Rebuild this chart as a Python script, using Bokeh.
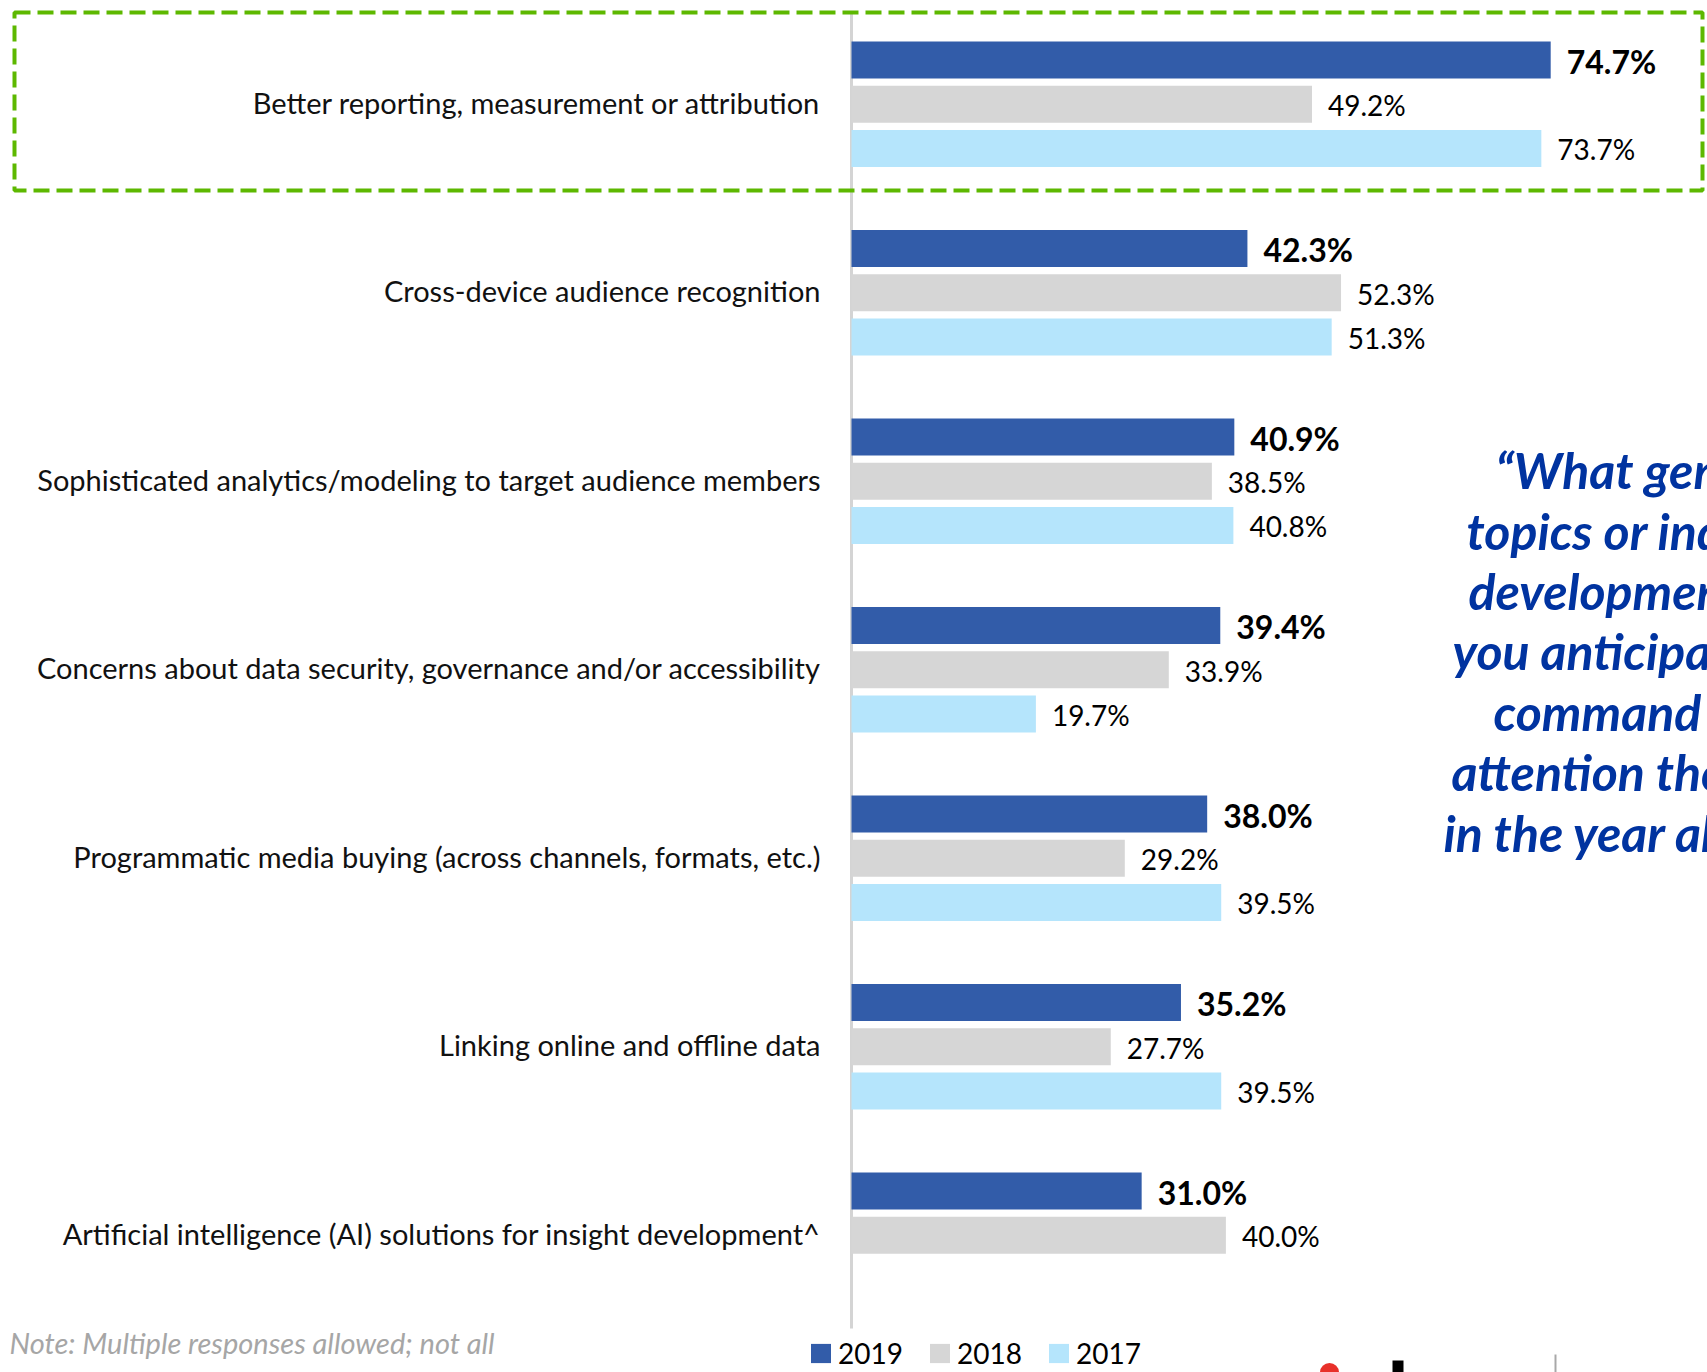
from bokeh.plotting import figure
from bokeh.models import (Range1d, Label, BoxAnnotation,
                          Legend, LegendItem, ColumnDataSource)
from bokeh.core.properties import value
from bokeh.embed import file_html
from bokeh.resources import INLINE

# ---------------- data ----------------
categories = [
    "Better reporting, measurement or attribution",
    "Cross-device audience recognition",
    "Sophisticated analytics/modeling to target audience members",
    "Concerns about data security, governance and/or accessibility",
    "Programmatic media buying (across channels, formats, etc.)",
    "Linking online and offline data",
    "Artificial intelligence (AI) solutions for insight development^",
]
years = ["2019", "2018", "2017"]
values_2019 = [74.7, 42.3, 40.9, 39.4, 38.0, 35.2, 31.0]
values_2018 = [49.2, 52.3, 38.5, 33.9, 29.2, 27.7, 40.0]
values_2017 = [73.7, 51.3, 40.8, 19.7, 39.5, 39.5, None]
colors = {"2019": "#325CA9", "2018": "#D6D6D6", "2017": "#B5E5FC"}

note_text = "Note: Multiple responses allowed; not all"
quote_lines = [
    "\u201cWhat general",
    "topics or industry",
    "developments do",
    "you anticipate will",
    "command your",
    "attention the most",
    "in the year ahead?\u201d",
]

# ---------------- layout constants (pixels) ----------------
W, H = 1707, 1372
FONT = "Lato"
px_per_pct = 9.36
axis_x = 851            # x of the 0 % line
slot = 44.2             # px between bars inside a group
group_pitch = 188.5     # px between groups
first_mid = 103.7       # y of the first group's middle bar

dy = slot / group_pitch            # offset between years, in group units
bar_h = 37 / group_pitch

# y in "group" units, group 0 on top
y_range = Range1d((H - first_mid) / group_pitch, (0 - first_mid) / group_pitch)
x_range = Range1d(-axis_x / px_per_pct, (W - axis_x) / px_per_pct)

p = figure(width=W, height=H, x_range=x_range, y_range=y_range,
           output_backend="svg", toolbar_location=None,
           x_axis_location=None, y_axis_location=None,
           min_border_left=0, min_border_right=0, min_border_top=0,
           min_border_bottom=0)
p.outline_line_color = None
p.xgrid.grid_line_color = None
p.ygrid.grid_line_color = None
p.background_fill_color = "white"
p.border_fill_color = "white"

# pixel-space helper ranges for decorations
p.extra_x_ranges = {"px": Range1d(0, W)}
p.extra_y_ranges = {"py": Range1d(H, 0)}

# dashed highlight box
p.add_layout(BoxAnnotation(left=14, right=1702, top=12, bottom=190,
                           x_range_name="px", y_range_name="py",
                           fill_color=None, fill_alpha=0,
                           line_color="#5DB800", line_alpha=1.0,
                           line_width=4, line_dash="16 7"))

# zero line
p.segment(x0=[0], x1=[0], y0=[13], y1=[1328], y_range_name="py",
          line_color="#D4D4D4", line_width=3)

series = {"2019": values_2019, "2018": values_2018, "2017": values_2017}
renderers = {}
for k, yr in enumerate(years):
    idx = [i for i, v in enumerate(series[yr]) if v is not None]
    vals = [series[yr][i] for i in idx]
    src = ColumnDataSource(dict(y=[i + (k - 1) * dy for i in idx], v=vals,
                                lab=[f"{v:.1f}%" for v in vals]))
    renderers[yr] = p.hbar(y="y", left=0, right="v", height=bar_h, source=src,
                           fill_color=colors[yr], line_color=None)
    p.text(x="v", y="y", text="lab", source=src, x_offset=16, y_offset=1,
           text_baseline="middle", text_align="left",
           text_font=value(FONT),
           text_font_style="bold" if yr == "2019" else "normal",
           text_font_size="32px" if yr == "2019" else "28px",
           text_color="#000000")

# category labels
csrc = ColumnDataSource(dict(x=[0] * len(categories),
                             y=list(range(len(categories))),
                             t=categories))
p.text(x="x", y="y", text="t", source=csrc, x_offset=-31, y_offset=-2,
       text_align="right", text_baseline="middle",
       text_font=value(FONT), text_font_size="29px", text_color="#111111")

# quote on the right
quote_x = [1495, 1466, 1468, 1452, 1493, 1451, 1443]
quote_base = [469, 530, 590, 650, 711, 771, 832]
for t, qx, qy in zip(quote_lines, quote_x, quote_base):
    p.add_layout(Label(x=qx, y=qy, x_range_name="px", y_range_name="py", text=t,
                       text_font=FONT, text_font_style="bold italic",
                       text_font_size="50px", text_color="#0033A0",
                       text_baseline="alphabetic", text_align="left"))

# note
p.add_layout(Label(x=9, y=1342, x_range_name="px", y_range_name="py", text=note_text,
                   text_font=FONT, text_font_style="italic", text_font_size="29px",
                   text_color="#A6A6A6", text_baseline="middle"))

# cut-off logo fragments at the bottom edge
p.circle(x=[1329], y=[1372], radius=9.5, x_range_name="px", y_range_name="py",
         fill_color="#E8302A", line_color=None)
p.quad(left=[1392], right=[1403], top=[1360], bottom=[1372],
       x_range_name="px", y_range_name="py", fill_color="#000000", line_color=None)
p.segment(x0=[1555], x1=[1555], y0=[1354], y1=[1372], x_range_name="px",
          y_range_name="py", line_color="#A8A8A8", line_width=2)

# legend
legend = Legend(items=[LegendItem(label=yr, renderers=[renderers[yr]]) for yr in years],
                orientation="horizontal", location=(808, 2),
                glyph_width=25, glyph_height=24, label_standoff=5, spacing=24,
                padding=0, margin=0, border_line_color=None,
                background_fill_alpha=0, label_text_font=FONT,
                label_text_font_size="28px", label_text_color="#000000")
p.add_layout(legend)

open("out.html", "w").write(file_html(p, INLINE))
